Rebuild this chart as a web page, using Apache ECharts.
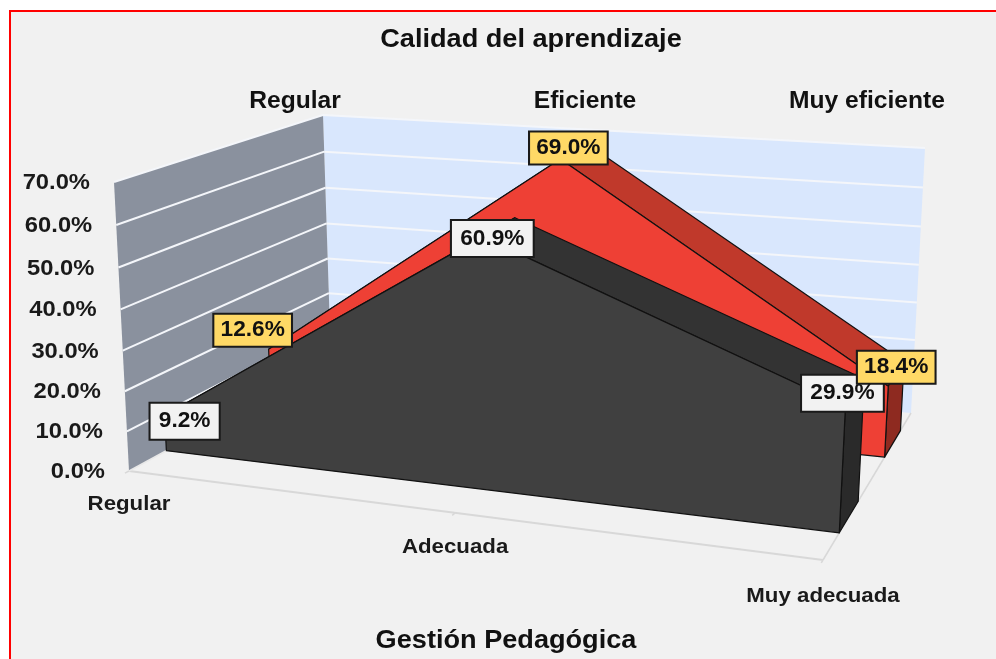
<!DOCTYPE html>
<html><head><meta charset="utf-8">
<style>html,body{margin:0;padding:0;background:#fff}#c{width:996px;height:659px}</style>
<script src="https://cdn.jsdelivr.net/npm/echarts@6/dist/echarts.min.js"></script>
</head><body><div id="c"></div>
<script>
// ---- data ----
const categories = ['Regular', 'Adecuada', 'Muy adecuada'];
const depthNames = ['Regular', 'Eficiente', 'Muy eficiente'];
const eficiente = [12.6, 69.0, 18.4];
const muyEficiente = [9.2, 60.9, 29.9];
const valueTicks = [0, 10, 20, 30, 40, 50, 60, 70];
const tickLabels = ['0.0%', '10.0%', '20.0%', '30.0%', '40.0%', '50.0%', '60.0%', '70.0%'];

// ---- 3D box projection (pixel corners of the plot box) ----
const FLB = [129, 471], FLT = [114, 182], BLB = [331, 361], BLT = [323, 115];
const FRB = [823, 560], FRT = [838, 246], BRB = [911, 413], BRT = [925, 148];
const warpX = 1.128, warpV = 1.05;
const warp = (t, r) => t / (t + r * (1 - t));
const mix = (a, b, k) => [a[0] + (b[0] - a[0]) * k, a[1] + (b[1] - a[1]) * k];
function P(t, z, v) {
  const tt = warp(t, warpX), vv = warp(v, warpV);
  const fb = mix(mix(FLB, FRB, tt), mix(BLB, BRB, tt), z);
  const ft = mix(mix(FLT, FRT, tt), mix(BLT, BRT, tt), z);
  return mix(fb, ft, vv);
}
const norm = (c, cs) => [(c[0] - cs.x) / cs.width, (cs.y + cs.height - c[1]) / cs.height];

const FONT = 'Liberation Sans';
const darkStroke = '#111111';
const styles = {
  red: { front: '#EE4035', top: '#C0392B', end: '#8E2A20', z0: 0.70, z1: 0.88, labelFill: '#FFD966', pad: [5, 6, 4, 6] },
  dark: { front: '#404040', top: '#333333', end: '#2A2A2A', z0: 0.185, z1: 0.40, labelFill: '#F2F2F2', pad: [7, 8, 6, 8] }
};
const labelShift = {
  red: [[-16, -19], [8, -11], [8, -19]],
  dark: [[20, 6], [10, 2], [-3, -13]]
};
const catLabelDY = [33, 34, 36];
const LABEL_STRETCH = 1.03, CAT_STRETCH = 1.06, TICK_STRETCH = 1.08;

function wallItem(params, api) {
  const cs = params.coordSys;
  const a = norm(api.coord([0, 0]), cs), b = norm(api.coord([categories.length - 1, valueTicks[valueTicks.length - 1]]), cs);
  const [t0, v0] = a, [t1, v1] = b;
  const kids = [];
  const poly = (pts, fill) => kids.push({ type: 'polygon', shape: { points: pts }, style: { fill: fill } });
  const line = (p, q, col, w) => kids.push({ type: 'line', shape: { x1: p[0], y1: p[1], x2: q[0], y2: q[1] }, style: { stroke: col, lineWidth: w } });
  poly([P(t0, 1, v0), P(t0, 1, v1), P(t1, 1, v1), P(t1, 1, v0)], '#D9E7FD');
  poly([P(t0, 0, v0), P(t0, 0, v1), P(t0, 1, v1), P(t0, 1, v0)], '#8A919E');
  valueTicks.forEach((tv) => {
    if (tv === 0) return;
    const v = norm(api.coord([0, tv]), cs)[1];
    line(P(t0, 0, v), P(t0, 1, v), '#F4F6FA', 2);
    line(P(t0, 1, v), P(t1, 1, v), '#F4F6FA', 2);
  });
  const g = '#D8D8D8';
  line(P(t0, 0, v0), P(t1, 0, v0), g, 2);
  line(P(t1, 0, v0), P(t1, 1, v0), g, 1.5);
  line(P(t0, 0, v0), P(t0, 1, v0), '#E8E8E8', 1.5);
  categories.forEach((c, i) => {
    const t = norm(api.coord([i, 0]), cs)[0];
    line(P(t, 0, v0), P(t, -0.02, v0), g, 1.5);
    const p = P(t, 0, v0);
    kids.push({ type: 'text', x: p[0], y: p[1] + catLabelDY[i], scaleX: CAT_STRETCH, style: { text: c, x: 0, y: 0, fill: '#1A1A1A', font: 'bold 21px "' + FONT + '"', align: 'center', verticalAlign: 'middle' } });
  });
  valueTicks.forEach((tv, i) => {
    const v = norm(api.coord([0, tv]), cs)[1];
    const p = P(t0, 0, v);
    kids.push({ type: 'text', x: p[0] - 24, y: p[1] + 1, scaleX: TICK_STRETCH, style: { text: tickLabels[i], x: 0, y: 0, fill: '#1A1A1A', font: 'bold 22px "' + FONT + '"', align: 'right', verticalAlign: 'middle' } });
  });
  return { type: 'group', children: kids };
}

function areaItem(key, values) {
  const s = styles[key];
  return function (params, api) {
    if (params.dataIndex !== 0) return null;
    const cs = params.coordSys;
    const pts = values.map((val, i) => norm(api.coord([i, val]), cs));
    const base = norm(api.coord([0, 0]), cs)[1];
    const F = pts.map(p => P(p[0], s.z0, p[1]));
    const B = pts.map(p => P(p[0], s.z1, p[1]));
    const last = pts.length - 1;
    const kids = [];
    const poly = (points, fill) => kids.push({ type: 'polygon', shape: { points: points }, style: { fill: fill, stroke: darkStroke, lineWidth: 1.2, lineJoin: 'round' } });
    for (let i = 0; i < last; i++) poly([F[i], F[i + 1], B[i + 1], B[i]], s.top);
    poly([F[last], B[last], P(pts[last][0], s.z1, base), P(pts[last][0], s.z0, base)], s.end);
    poly([P(pts[0][0], s.z0, base)].concat(F, [P(pts[last][0], s.z0, base)]), s.front);
    return { type: 'group', children: kids };
  };
}

function labelItem(key, values) {
  const s = styles[key];
  return function (params, api) {
    const cs = params.coordSys, i = params.dataIndex;
    const n = norm(api.coord([i, values[i]]), cs);
    const p = P(n[0], s.z0, n[1]);
    return {
      type: 'text',
      x: p[0] + labelShift[key][i][0], y: p[1] + labelShift[key][i][1], scaleX: LABEL_STRETCH,
      style: {
        text: values[i].toFixed(1) + '%', x: 0, y: 0,
        fill: '#111', font: 'bold 22px "' + FONT + '"', align: 'center', verticalAlign: 'middle',
        backgroundColor: s.labelFill, borderColor: '#1A1A1A', borderWidth: 2, padding: s.pad
      }
    };
  };
}

const chart = echarts.init(document.getElementById('c'), null, { renderer: 'canvas' });
const toData = arr => arr.map((v, i) => [i, v]);
const depthX = [295, 585, 867];
const bigText = (text, x, y, size, stretch) => ({
  type: 'text', z: 1, x: x, y: y, scaleX: stretch,
  style: { text: text, x: 0, y: 0, fill: '#111', font: 'bold ' + size + 'px "' + FONT + '"', align: 'center', verticalAlign: 'middle' }
});
chart.setOption({
  animation: false,
  backgroundColor: '#FFFFFF',
  grid: { left: 129, top: 182, width: 694, height: 288, show: false },
  xAxis: { type: 'category', data: categories, boundaryGap: false, show: false },
  yAxis: { type: 'value', min: 0, max: 70, interval: 10, show: false },
  graphic: [
    { type: 'rect', z: -10, shape: { x: 10, y: 11, width: 1100, height: 800 }, style: { fill: '#F1F1F1', stroke: '#FF0000', lineWidth: 2 } },
    bigText('Calidad del aprendizaje', 531, 40, 25, 1.085),
    bigText('Gestión Pedagógica', 506, 641, 25, 1.085)
  ].concat(depthNames.map((d, i) => bigText(d, depthX[i], 102, 23, 1.07))),
  series: [
    { type: 'custom', name: 'walls', coordinateSystem: 'cartesian2d', data: [[0, 0]], renderItem: wallItem, silent: true, z: 2 },
    { type: 'custom', name: 'Eficiente', coordinateSystem: 'cartesian2d', data: toData(eficiente), renderItem: areaItem('red', eficiente), z: 3 },
    { type: 'custom', name: 'Muy eficiente', coordinateSystem: 'cartesian2d', data: toData(muyEficiente), renderItem: areaItem('dark', muyEficiente), z: 4 },
    { type: 'custom', name: 'Etiquetas Muy eficiente', coordinateSystem: 'cartesian2d', data: toData(muyEficiente), renderItem: labelItem('dark', muyEficiente), z: 5 },
    { type: 'custom', name: 'Etiquetas Eficiente', coordinateSystem: 'cartesian2d', data: toData(eficiente), renderItem: labelItem('red', eficiente), z: 6 }
  ]
});
</script></body></html>
